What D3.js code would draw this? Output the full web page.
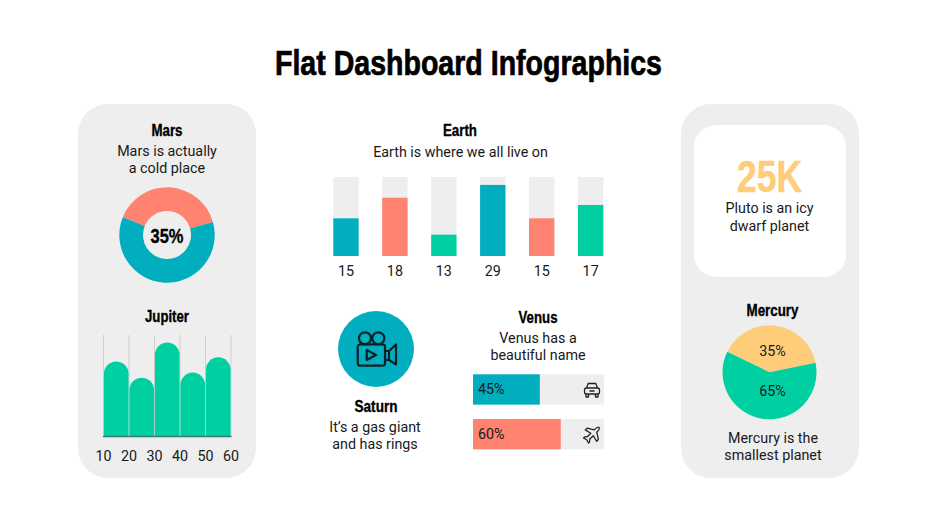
<!DOCTYPE html>
<html lang="en">
<head>
<meta charset="UTF-8">
<title>Flat Dashboard Infographics</title>
<script src="https://d3js.org/d3.v7.min.js"></script>
<style>
  html, body { margin: 0; padding: 0; background: #fff; }
  svg { display: block; }
  text { font-family: Roboto, sans-serif; fill: #191919; }
  .head { font-family: "Liberation Sans Narrow", "Liberation Sans", sans-serif; font-weight: 700; fill: #000; stroke: #000; stroke-width: 0.35; }
</style>
</head>
<body>
<div id="chart"></div>
<script>
// data
var marsSlices = [39.5, 60.5];
var jupiterTicks = [10, 20, 30, 40, 50, 60];
var jupiterValues = [74, 58, 92.5, 63, 78];
var earthLabels = [15, 18, 13, 29, 15, 17];
var earthFill = [47.7, 73.8, 27, 90, 47.7, 64.6];
var venusLabels = ["45%", "60%"];
var venusFill = [51, 67];
var mercurySlices = [39.5, 60.5];
var mercuryLabels = ["35%", "65%"];

var teal = "#00aebf", salmon = "#ff8370", green = "#00cfa1", yellow = "#ffcc7a", grey = "#eeeeee";
var earthColors = [teal, salmon, green, teal, salmon, green];

var svg = d3.select("#chart").append("svg").attr("width", 937).attr("height", 527);

function label(x, y, str, size, cls, width) {
  var t = svg.append("text").attr("x", x).attr("y", y).attr("text-anchor", "middle")
    .style("font-size", size + "px").text(str);
  if (cls) t.attr("class", cls);
  if (width) t.attr("textLength", width).attr("lengthAdjust", "spacingAndGlyphs");
  return t;
}

// title
label(468.5, 74.5, "Flat Dashboard Infographics", 35, "head", 387).style("stroke-width", 0.7);

// panels
svg.append("rect").attr("x", 78).attr("y", 104).attr("width", 178).attr("height", 374).attr("rx", 30).attr("fill", grey);
svg.append("rect").attr("x", 681).attr("y", 104).attr("width", 178).attr("height", 374).attr("rx", 30).attr("fill", grey);
svg.append("rect").attr("x", 694).attr("y", 125).attr("width", 152).attr("height", 152).attr("rx", 22).attr("fill", "#fff");

// Mars donut
label(167, 136, "Mars", 17, "head", 31);
label(167, 156, "Mars is actually", 14.3);
label(167, 173, "a cold place", 14.3);
var marsPie = d3.pie().sort(null).startAngle(-68 * Math.PI / 180).endAngle(292 * Math.PI / 180);
var marsArc = d3.arc().innerRadius(24).outerRadius(47.7);
svg.append("g").attr("transform", "translate(167,235)")
  .selectAll("path").data(marsPie(marsSlices)).enter().append("path")
  .attr("d", marsArc)
  .attr("fill", function (d, i) { return i === 0 ? salmon : teal; });
label(167, 243, "35%", 21, "head", 33);

// Jupiter rounded bars
label(167, 322, "Jupiter", 17, "head", 44);
var jx = d3.scalePoint().domain(jupiterTicks).range([103.5, 231]);
var jy = d3.scaleLinear().domain([0, 100]).range([436.5, 335]);
svg.append("g").selectAll("line").data(jupiterTicks).enter().append("line")
  .attr("x1", function (d) { return jx(d); }).attr("x2", function (d) { return jx(d); })
  .attr("y1", jy(100)).attr("y2", jy(0))
  .attr("stroke", "#cfcfcf").attr("stroke-width", 1);
svg.append("g").selectAll("path").data(jupiterValues).enter().append("path")
  .attr("fill", green)
  .attr("d", function (d, i) {
    var x0 = jx(jupiterTicks[i]) + 0.4, x1 = jx(jupiterTicks[i + 1]) - 0.4, r = (x1 - x0) / 2;
    return "M" + x0 + "," + jy(0) + "V" + (jy(d) + r) + "A" + r + "," + r + " 0 0 1 " + x1 + "," + (jy(d) + r) + "V" + jy(0) + "Z";
  });
svg.append("line").attr("x1", 103).attr("x2", 231.5).attr("y1", jy(0)).attr("y2", jy(0))
  .attr("stroke", "#2f7f6d").attr("stroke-width", 1.6);
svg.append("g").selectAll("text").data(jupiterTicks).enter().append("text")
  .attr("x", function (d) { return jx(d); }).attr("y", 461).attr("text-anchor", "middle")
  .style("font-size", "14.3px").text(function (d) { return d; });

// Earth bars
label(460, 136, "Earth", 17, "head", 34);
label(460.5, 157, "Earth is where we all live on", 14.3);
var ex = d3.scaleBand().domain(d3.range(earthLabels.length)).range([333.3 - 11.8, 603.3 + 11.8]).paddingInner(0.482).paddingOuter(0.241);
var ey = d3.scaleLinear().domain([0, 100]).range([256, 177]);
var bars = svg.append("g");
bars.selectAll(".track").data(earthFill).enter().append("rect").attr("class", "track")
  .attr("x", function (d, i) { return ex(i); }).attr("width", ex.bandwidth())
  .attr("y", ey(100)).attr("height", ey(0) - ey(100)).attr("fill", grey);
bars.selectAll(".bar").data(earthFill).enter().append("rect").attr("class", "bar")
  .attr("x", function (d, i) { return ex(i); }).attr("width", ex.bandwidth())
  .attr("y", function (d) { return ey(d); }).attr("height", function (d) { return ey(0) - ey(d); })
  .attr("fill", function (d, i) { return earthColors[i]; });
bars.selectAll(".val").data(earthLabels).enter().append("text").attr("class", "val")
  .attr("x", function (d, i) { return ex(i) + ex.bandwidth() / 2; }).attr("y", 276).attr("text-anchor", "middle")
  .style("font-size", "14.3px").text(function (d) { return d; });

// Saturn
svg.append("circle").attr("cx", 376).attr("cy", 349).attr("r", 38).attr("fill", teal);
var cam = svg.append("g").attr("transform", "translate(376,349)")
  .attr("fill", "none").attr("stroke", "#0b1f26").attr("stroke-width", 2.2).attr("stroke-linejoin", "round");
cam.append("circle").attr("cx", -11).attr("cy", -10.7).attr("r", 6);
cam.append("circle").attr("cx", 2.3).attr("cy", -10.7).attr("r", 6);
cam.append("rect").attr("x", -18.3).attr("y", -4.7).attr("width", 27.3).attr("height", 21.4).attr("rx", 2.5);
cam.append("path").attr("d", "M-9.3,1V11L0,6Z");
cam.append("path").attr("d", "M9,2H13V11H9M13,2L20,-4.5V15.5L13,11Z");

label(376, 412, "Saturn", 17, "head", 43);
label(375, 432, "It\u2019s a gas giant", 14.3);
label(375, 449, "and has rings", 14.3);

// Venus progress bars
label(538, 323, "Venus", 17, "head", 39);
label(538, 343, "Venus has a", 14.3);
label(538, 360, "beautiful name", 14.3);
var vx = d3.scaleLinear().domain([0, 100]).range([473, 604]);
var vy = d3.scaleBand().domain([0, 1]).range([374.3, 449.3]).paddingInner(0.322);
svg.append("g").selectAll("rect").data(venusFill).enter().append("rect")
  .attr("x", vx(0)).attr("y", function (d, i) { return vy(i); })
  .attr("width", vx(100) - vx(0)).attr("height", vy.bandwidth()).attr("fill", grey);
svg.append("g").selectAll("rect").data(venusFill).enter().append("rect")
  .attr("x", vx(0)).attr("y", function (d, i) { return vy(i); })
  .attr("width", function (d) { return vx(d) - vx(0); }).attr("height", vy.bandwidth())
  .attr("fill", function (d, i) { return i === 0 ? teal : salmon; });
svg.append("g").selectAll("text").data(venusLabels).enter().append("text")
  .attr("x", 478).attr("y", function (d, i) { return vy(i) + 20; })
  .style("font-size", "14.3px").text(function (d) { return d; });

// car icon
var car = svg.append("g").attr("transform", "translate(592,390)")
  .attr("fill", "none").attr("stroke", "#222").attr("stroke-width", 1.3).attr("stroke-linejoin", "round");
car.append("path").attr("d", "M-5.5,-2L-3.8,-6.5H3.8L5.5,-2");
car.append("rect").attr("x", -7.5).attr("y", -2).attr("width", 15).attr("height", 6).attr("rx", 2);
car.append("path").attr("d", "M-6,4V7H-3.5V4M6,4V7H3.5V4M-2.5,1H2.5");
// plane icon
var plane = svg.append("g").attr("transform", "translate(592,434.5) rotate(45)")
  .attr("fill", "none").attr("stroke", "#222").attr("stroke-width", 1.3).attr("stroke-linejoin", "round");
plane.append("path").attr("d", "M0,-10C1.5,-10 1.7,-7 1.7,-5L8,-1V1.5L1.7,0V5L3.5,7V8.5L0,7.5L-3.5,8.5V7L-1.7,5V0L-8,1.5V-1L-1.7,-5C-1.7,-7 -1.5,-10 0,-10Z");

// Pluto card
label(769.5, 192, "25K", 43.5, "head", 65).style("fill", yellow).style("stroke", yellow).style("stroke-width", 0.5);
label(769.5, 213, "Pluto is an icy", 14.3);
label(769.5, 231, "dwarf planet", 14.3);

// Mercury pie
label(772.5, 316, "Mercury", 17, "head", 52);
var mercPie = d3.pie().sort(null).startAngle(-64 * Math.PI / 180).endAngle(296 * Math.PI / 180);
var mercArc = d3.arc().innerRadius(0).outerRadius(47);
svg.append("g").attr("transform", "translate(769.5,372.3)")
  .selectAll("path").data(mercPie(mercurySlices)).enter().append("path")
  .attr("d", mercArc)
  .attr("fill", function (d, i) { return i === 0 ? yellow : green; });
label(772.5, 356, mercuryLabels[0], 14.3);
label(772.5, 396, mercuryLabels[1], 14.3);
label(773, 443, "Mercury is the", 14.3);
label(773, 460, "smallest planet", 14.3);
</script>
</body>
</html>
